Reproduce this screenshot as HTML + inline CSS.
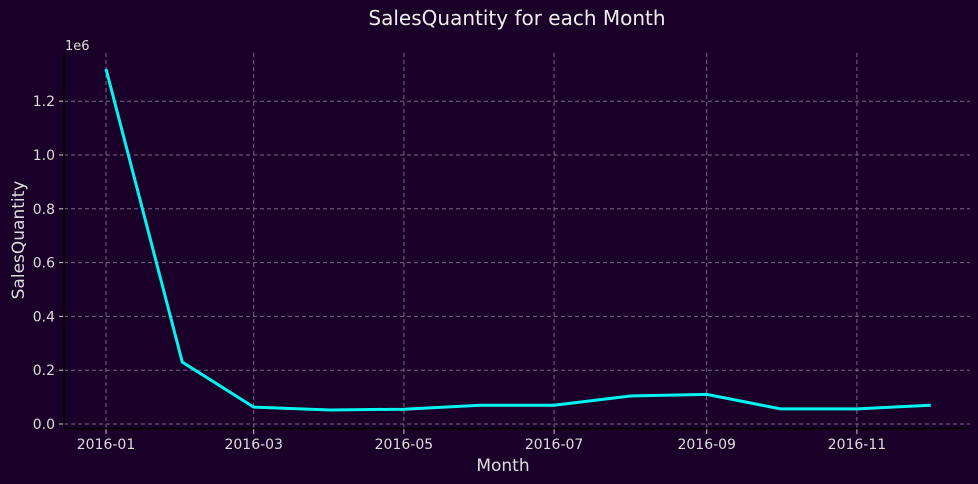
<!DOCTYPE html>
<html><head><meta charset="utf-8"><style>
body{margin:0;background:#1a0028;}
svg{display:block;font-family:"DejaVu Sans","Liberation Sans",sans-serif;}
</style></head><body>
<svg id="chart" width="978" height="484">
<rect width="978" height="484" fill="#1a0028"/>
<text x="517" y="25" font-size="20" fill="#eee" text-anchor="middle">SalesQuantity for each Month</text>
<text x="65" y="50" font-size="13" fill="#ddd">1e6</text>
<text x="503" y="471" font-size="17" fill="#ddd" text-anchor="middle">Month</text>
<text transform="translate(24,240) rotate(-90)" font-size="17" fill="#ddd" text-anchor="middle">SalesQuantity</text>
<g id="grid"></g><g id="ticks"></g>
<line x1="64" y1="53" x2="64" y2="428.5" stroke="#000" stroke-width="1.5"/>
<line x1="64" y1="428.5" x2="970" y2="428.5" stroke="#000" stroke-width="1.5"/>
<g id="series"></g>
</svg>
<script>
const months = ["2016-01","2016-02","2016-03","2016-04","2016-05","2016-06","2016-07","2016-08","2016-09","2016-10","2016-11","2016-12"];
const salesQuantity = [1320000,230000,63000,52000,55000,70000,70000,104000,110000,56000,56000,70000];
const yTicks = [0,0.2,0.4,0.6,0.8,1.0,1.2];
const yTickLabels = ["0.0","0.2","0.4","0.6","0.8","1.0","1.2"];
const xTickLabels = ["2016-01","2016-03","2016-05","2016-07","2016-09","2016-11"];
const NS="http://www.w3.org/2000/svg";
function dayOf(m){const [y,mo]=m.split("-").map(Number);return (Date.UTC(y,mo-1,1)-Date.UTC(2016,0,1))/86400000;}
function xs(m){return 106+dayOf(m)*2.462;}
function ys(v){return 424-v/1e6*269;}
function mk(tag,attrs,parent){const e=document.createElementNS(NS,tag);for(const k in attrs)e.setAttribute(k,attrs[k]);parent.appendChild(e);return e;}
const grid=document.getElementById("grid"),ticks=document.getElementById("ticks"),series=document.getElementById("series");
yTicks.forEach((t,i)=>{const y=ys(t*1e6);
 const g=mk("line",{x1:64,x2:970,y1:y,y2:y,stroke:"#7a6488","stroke-width":1,"stroke-dasharray":"4,3"},grid);
 
 
 const tk=mk("line",{x1:59,x2:64,y1:y,y2:y,stroke:"#ccc"},ticks);
 
 
 const tx=mk("text",{x:55,y:y+5,"font-size":14,fill:"#ddd","text-anchor":"end"},ticks);tx.textContent=yTickLabels[i];
 
 
});
xTickLabels.forEach(m=>{const x=xs(m);
 const g=mk("line",{x1:x,x2:x,y1:53,y2:428,stroke:"#7a6488","stroke-width":1,"stroke-dasharray":"4,3"},grid);
 
 
 const tk=mk("line",{x1:x,x2:x,y1:429,y2:434,stroke:"#ccc"},ticks);
 
 
 const tx=mk("text",{x:x,y:449,"font-size":14,fill:"#ddd","text-anchor":"middle"},ticks);tx.textContent=m;
 
 
});
const pts=months.map((m,i)=>xs(m).toFixed(1)+","+ys(salesQuantity[i]).toFixed(1)).join(" ");
const line=mk("polyline",{points:pts,fill:"none",stroke:"#00f5f0","stroke-width":3,"stroke-linejoin":"round"},series);


</script>
</body></html>
